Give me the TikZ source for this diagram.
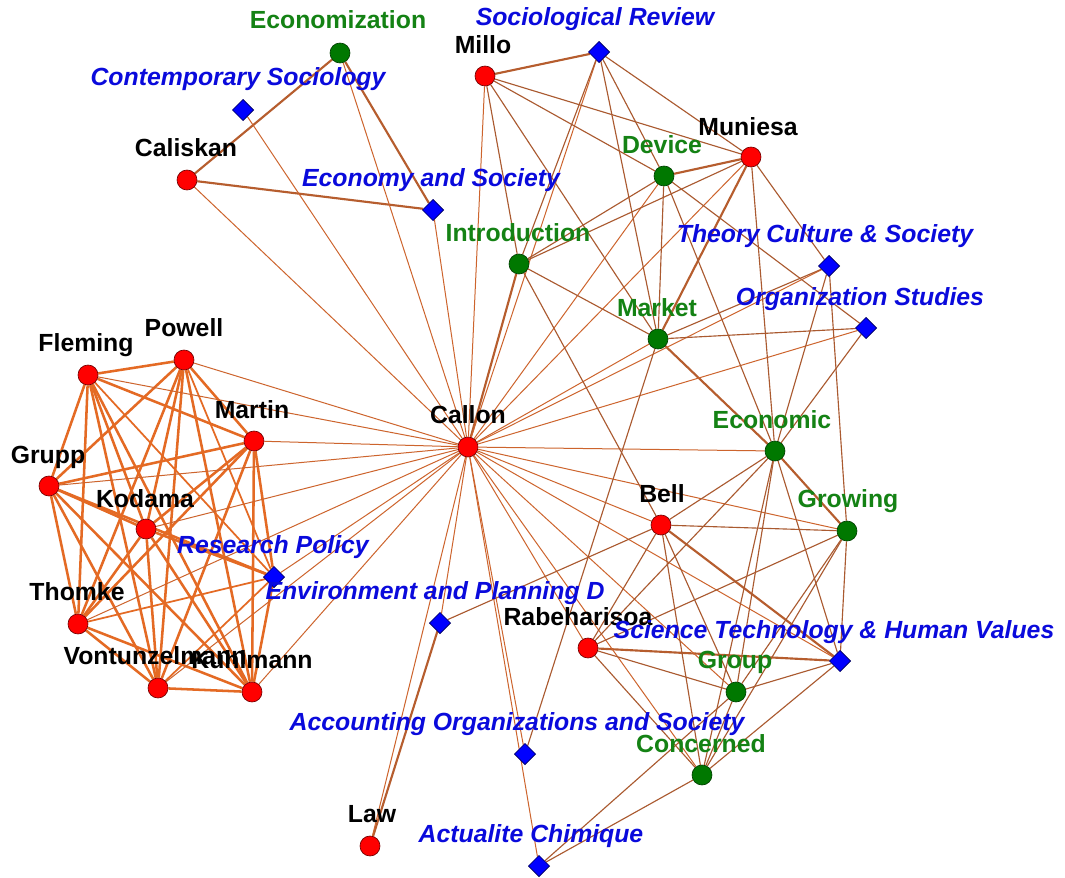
\documentclass[tikz,border=0pt]{standalone}
\usepackage{fontspec}
\setmainfont{Liberation Sans}
\usetikzlibrary{shapes.geometric}
\pgfdeclarelayer{bg}
\pgfsetlayers{bg,main}
\definecolor{eorange}{RGB}{228,106,36}
\definecolor{ebrown}{RGB}{170,90,48}
\definecolor{emid}{RGB}{205,100,45}
\definecolor{nred}{RGB}{255,0,0}
\definecolor{ngreen}{RGB}{0,120,0}
\definecolor{nblue}{RGB}{0,0,255}
\definecolor{tgreen}{RGB}{20,130,20}
\definecolor{tblue}{RGB}{10,10,220}
\begin{document}
\begin{tikzpicture}[x=0.75pt,y=-0.75pt,
  rn/.style={circle,fill=nred,draw=red!45!black,line width=0.5pt,minimum size=15pt,inner sep=0pt},
  gn/.style={circle,fill=ngreen,draw=green!25!black,line width=0.5pt,minimum size=15pt,inner sep=0pt},
  bn/.style={diamond,fill=nblue,draw=blue!35!black,line width=0.5pt,minimum size=16pt,inner sep=0pt},
  lb/.style={inner sep=0pt,anchor=base,font=\fontsize{18.6}{20}\selectfont\bfseries},
  lr/.style={lb,text=black},
  lg/.style={lb,text=tgreen},
  lj/.style={lb,text=tblue,font=\fontsize{18.6}{20}\selectfont\bfseries\itshape},
  ethin/.style={draw=emid,line width=0.75pt},
  ebr/.style={draw=ebrown,line width=0.85pt},
  emd/.style={draw=eorange,line width=1.3pt},
  emb/.style={draw=ebrown!80!eorange,line width=1.6pt},
  ethk/.style={draw=eorange,line width=1.9pt}]
\useasboundingbox (0,0) rectangle (1065,878);
% nodes
\node[gn] (Ecz) at (340,53) {};
\node[bn] (CS) at (243,110) {};
\node[rn] (Cal) at (187,180) {};
\node[bn] (ES) at (433,210) {};
\node[rn] (Mil) at (485,76) {};
\node[bn] (SR) at (599,52) {};
\node[rn] (Mun) at (751,157) {};
\node[gn] (Dev) at (664,176) {};
\node[gn] (Int) at (519,264) {};
\node[bn] (TCS) at (829,266) {};
\node[bn] (OS) at (866,328) {};
\node[gn] (Mkt) at (658,339) {};
\node[rn] (Cn) at (468,447) {};
\node[gn] (Eco) at (775,451) {};
\node[rn] (Bel) at (661,525) {};
\node[gn] (Gro) at (847,531) {};
\node[rn] (Fl) at (88,375) {};
\node[rn] (Po) at (184,360) {};
\node[rn] (Ma) at (254,441) {};
\node[rn] (Gr) at (49,486) {};
\node[rn] (Ko) at (146,529) {};
\node[bn] (RP) at (274,577) {};
\node[rn] (Th) at (78,624) {};
\node[rn] (Vo) at (158,688) {};
\node[rn] (Ku) at (252,692) {};
\node[rn] (Rab) at (588,648) {};
\node[bn] (ST) at (840,661) {};
\node[gn] (Grp) at (736,692) {};
\node[bn] (AO) at (525,754) {};
\node[gn] (Con) at (702,775) {};
\node[rn] (Law) at (370,846) {};
\node[bn] (AC) at (539,866) {};
\node[bn] (EP) at (440,623) {};
% edges
\begin{pgfonlayer}{bg}
\fill[white] (0,0) rectangle (1065,878);
\foreach \a/\b in {Fl/Po,Fl/Ma,Fl/Gr,Fl/Ko,Fl/Th,Fl/Vo,Fl/Ku,Po/Ma,Po/Gr,Po/Ko,Po/Th,Po/Vo,Po/Ku,
  Ma/Gr,Ma/Ko,Ma/Th,Ma/Vo,Ma/Ku,Gr/Ko,Gr/Th,Gr/Vo,Gr/Ku,Ko/Th,Ko/Vo,Ko/Ku,Th/Vo,Th/Ku,Vo/Ku,
  Gr/RP,Ko/RP,Ma/RP,Ku/RP}
  \draw[ethk] (\a) -- (\b);
\foreach \a/\b in {Po/RP,Th/RP,Vo/RP,Fl/RP}
  \draw[emd] (\a) -- (\b);
\foreach \a/\b in {Ecz/Cal,Ecz/ES,Cal/ES,Mil/SR,Mun/Dev,Mun/Mkt,Mkt/Eco,Eco/Gro,Rab/ST,Bel/ST,Law/EP,Cn/Int}
  \draw[emb] (\a) -- (\b);
\foreach \a/\b in {Cn/Fl,Cn/Po,Cn/Ma,Cn/Gr,Cn/Ko,Cn/Th,Cn/Vo,Cn/Ku,Cn/RP,
  Cn/Ecz,Cn/CS,Cn/Cal,Cn/ES,Cn/Mil,Cn/SR,Cn/Dev,Cn/Mun,Cn/Mkt,Cn/TCS,Cn/OS,Cn/Eco,Cn/Gro,Cn/Bel,
  Cn/ST,Cn/Grp,Cn/Con,Cn/Rab,Cn/EP,Cn/Law,Cn/AO,Cn/AC}
  \draw[ethin] (\a) -- (\b);
\foreach \a/\b in {Mil/Mun,Mil/Dev,Mil/Int,Mil/Mkt,SR/Mun,SR/Int,SR/Mkt,SR/Dev,
  Mun/Int,Mun/TCS,Mun/Eco,Dev/Int,Dev/Mkt,Dev/Eco,Dev/OS,Int/Mkt,Int/Bel,
  TCS/Mkt,TCS/Eco,TCS/Gro,OS/Mkt,OS/Eco,Mkt/AO,
  Eco/Bel,Eco/ST,Eco/Grp,Eco/Con,Eco/Rab,Bel/Gro,Bel/Grp,Bel/Con,Bel/Rab,Bel/EP,
  Gro/ST,Gro/Grp,Gro/Con,Gro/Rab,Rab/Grp,Rab/Con,ST/Grp,ST/Con,Grp/Con,AC/Con,AC/Grp}
  \draw[ebr] (\a) -- (\b);
\end{pgfonlayer}
% labels
\node[lg] (lEcz) at (338,28) {Economization};
\node[lj] (lCS) at (238,85) {Contemporary Sociology};
\node[lr] (lCal) at (186,156) {Caliskan};
\node[lj] (lES) at (431,186) {Economy and Society};
\node[lr] (lMil) at (483,53) {Millo};
\node[lj] (lSR) at (595,26) {Sociological Review};
\node[lr] (lMun) at (748,135) {Muniesa};
\node[lg] (lDev) at (662,153) {Device};
\node[lg] (lInt) at (518,241) {Introduction};
\node[lj] (lTCS) at (825,242) {Theory Culture \& Society};
\node[lj] (lOS) at (860,305) {Organization Studies};
\node[lg] (lMkt) at (657,316) {Market};
\node[lr] (lCn) at (468,423) {Callon};
\node[lg] (lEco) at (772,428) {Economic};
\node[lr] (lBel) at (662,502) {Bell};
\node[lg] (lGro) at (848,507) {Growing};
\node[lr] (lFl) at (86,351) {Fleming};
\node[lr] (lPo) at (184,336) {Powell};
\node[lr] (lMa) at (252,418) {Martin};
\node[lr] (lGr) at (48,463) {Grupp};
\node[lr] (lKo) at (145,507) {Kodama};
\node[lj] (lRP) at (273,553) {Research Policy};
\node[lr] (lTh) at (77,600) {Thomke};
\node[lr] (lVo) at (155,664) {Vontunzelmann};
\node[lr] (lKu) at (252,668) {Kuhlmann};
\node[lj] (lEP) at (435,599) {Environment and Planning D};
\node[lr] (lRab) at (578,625) {Rabeharisoa};
\node[lj] (lST) at (834,638) {Science Technology \& Human Values};
\node[lg] (lGrp) at (735,668) {Group};
\node[lj] (lAO) at (517,730) {Accounting Organizations and Society};
\node[lg] (lCon) at (701,752) {Concerned};
\node[lr] (lLaw) at (372,822) {Law};
\node[lj] (lAC) at (531,842) {Actualite Chimique};
\end{tikzpicture}
\end{document}
